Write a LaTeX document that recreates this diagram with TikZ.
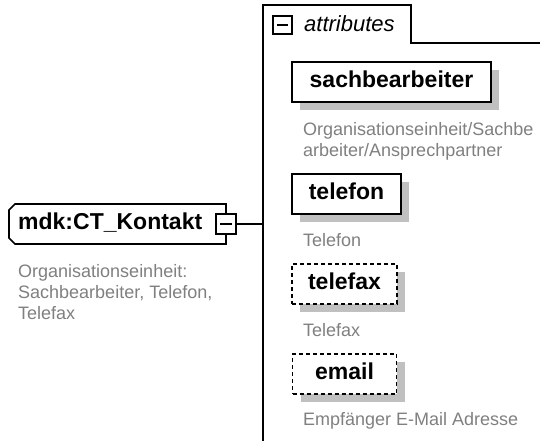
\documentclass[tikz,border=0pt]{standalone}
\usepackage{fontspec}
\setmainfont{Liberation Sans}
\usetikzlibrary{shadows}
\definecolor{descgray}{HTML}{808080}
\definecolor{shadowgray}{HTML}{C0C0C0}
\begin{document}
\begin{tikzpicture}[x=1pt,y=-1pt,
  boxlbl/.style={font=\fontsize{23}{27}\selectfont\bfseries},
  shadowed/.style={drop shadow={shadow xshift=8pt, shadow yshift=-8pt, fill=shadowgray, opacity=1}},
  attrbox/.style={draw=black, line width=1.6pt, fill=white, minimum height=40pt, inner sep=0pt, boxlbl, text depth=5pt, shadowed},
  optbox/.style={attrbox, dash pattern=on 4pt off 3pt},
  desc/.style={font=\fontsize{18}{21}\selectfont, text=descgray, inner sep=0pt, anchor=north west, align=left},
  minusbox/.style={draw=black, line width=1.3pt, fill=white, inner sep=0pt},
  frame/.style={line width=1.5pt}
]
\useasboundingbox (0,0) rectangle (540,441);
\fill[white] (0,0) rectangle (540,441);

% attributes frame
\draw[frame] (263,441) -- (263,5) -- (411,5) -- (411,43) -- (540,43);
\node[minusbox, minimum width=19pt, minimum height=18pt] (aminus) at (282.5,25) {};
\draw[line width=1.2pt] ([xshift=-5.5pt]aminus.center) -- ([xshift=5.5pt]aminus.center);
\node[font=\fontsize{22}{26}\selectfont\itshape, anchor=base west, inner sep=0pt] (attrlbl) at (304,32) {attributes};

% complex type node (chamfered on the left)
\node[minimum width=217pt, minimum height=40pt, inner sep=0pt, outer sep=0pt] (kontakt) at (117.5,224) {};
\fill[shadowgray, shift={(8,8)}]
  ([xshift=6pt]kontakt.north west) -- (kontakt.north east) -- (kontakt.south east)
  -- ([xshift=6pt]kontakt.south west) -- ([yshift=6pt]kontakt.south west)
  -- ([yshift=-6pt]kontakt.north west) -- cycle;
\draw[line width=1.6pt, fill=white]
  ([xshift=6pt]kontakt.north west) -- (kontakt.north east) -- (kontakt.south east)
  -- ([xshift=6pt]kontakt.south west) -- ([yshift=6pt]kontakt.south west)
  -- ([yshift=-6pt]kontakt.north west) -- cycle;
\node[boxlbl, text depth=5pt, anchor=west, inner sep=0pt] (kontaktlbl) at (18,224) {mdk:CT\_Kontakt};
\node[minusbox, minimum size=20pt] (kminus) at (226,224) {};
\draw[line width=1.2pt] ([xshift=-6pt]kminus.center) -- ([xshift=6pt]kminus.center);
\coordinate (spine) at (263,224);
\draw[frame] (kminus.east) -- (spine);
\node[desc] (kdesc) at (18,264) {Organisationseinheit:\\Sachbearbeiter, Telefon,\\Telefax};

% attributes
\node[attrbox, minimum width=199pt] (sach) at (391.5,82) {sachbearbeiter};
\node[desc] (sachdesc) at (303,122) {Organisationseinheit/Sachbe\\arbeiter/Ansprechpartner};
\node[attrbox, minimum width=109pt] (tel) at (346.5,194) {telefon};
\node[desc] (teldesc) at (303,233) {Telefon};
\node[optbox, minimum width=105pt] (fax) at (344.5,284) {telefax};
\node[desc] (faxdesc) at (303,323) {Telefax};
\node[optbox, minimum width=104pt] (mail) at (344.5,374) {email};
\node[desc] (maildesc) at (303,412) {Empfänger E-Mail Adresse};
\end{tikzpicture}
\end{document}
